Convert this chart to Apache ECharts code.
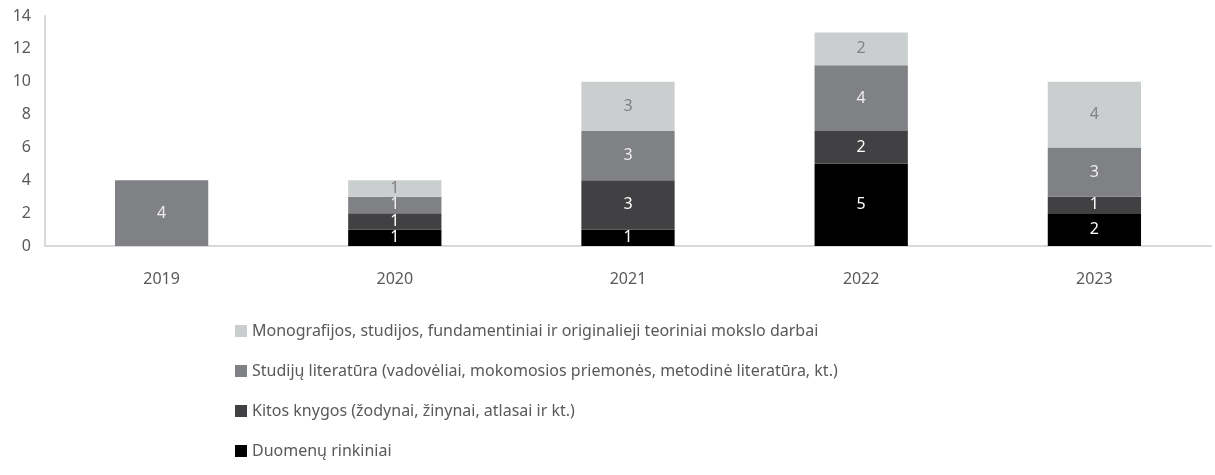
<!DOCTYPE html>
<head>
    <meta charset="utf-8">
    <title>Leidiniai</title>
    <script src="https://cdn.jsdelivr.net/npm/echarts@6/dist/echarts.min.js"></script>
    <style>
      body { margin:0; background:#fff; }
      #main { width:1215px; height:475px; }
    </style>
</head>
<body>
<div id="main"></div>
<script type="text/javascript">
var years = ['2019', '2020', '2021', '2022', '2023'];
var duomenu = [0, 1, 1, 5, 2];
var kitos = [0, 1, 3, 2, 1];
var studiju = [4, 1, 3, 4, 3];
var monografijos = [0, 1, 3, 2, 4];
var yTicks = [0, 2, 4, 6, 8, 10, 12, 14];

var names = [
    'Duomenų rinkiniai',
    'Kitos knygos (žodynai, žinynai, atlasai ir kt.)',
    'Studijų literatūra (vadovėliai, mokomosios priemonės, metodinė literatūra, kt.)',
    'Monografijos, studijos, fundamentiniai ir originalieji teoriniai mokslo darbai'
];
var colors = ['#000000', '#414042', '#808184', '#cbcecf'];
var labelColors = ['#ffffff', '#ffffff', '#eeeeee', '#808184'];
var values = [duomenu, kitos, studiju, monografijos];

var myChart = echarts.init(document.getElementById('main'));
var series = [];
for (var i = 0; i < values.length; i++) {
    series.push({
        name: names[i],
        type: 'bar',
        stack: 'total',
        barWidth: '40%',
        data: values[i],
        itemStyle: { color: colors[i] },
        label: {
            show: true,
            position: 'inside',
            color: labelColors[i],
            fontSize: 16,
            fontFamily: 'Noto Sans',
            formatter: function (p) { return p.value ? p.value : ''; }
        }
    });
}

var option = {
    animation: false,
    textStyle: { fontFamily: 'Noto Sans' },
    grid: { left: 45, right: 4, top: 16, bottom: 229 },
    legend: {
        orient: 'vertical',
        left: 230,
        top: 318,
        itemGap: 24,
        itemWidth: 12,
        itemHeight: 12,
        icon: 'rect',
        data: names.slice().reverse(),
        textStyle: { color: '#595959', fontSize: 16, fontFamily: 'Noto Sans' }
    },
    xAxis: {
        type: 'category',
        data: years,
        axisLine: { lineStyle: { color: '#d9d9d9', width: 2 } },
        axisTick: { show: false },
        axisLabel: { color: '#595959', fontSize: 16, margin: 25 }
    },
    yAxis: {
        type: 'value',
        min: yTicks[0],
        max: yTicks[yTicks.length - 1],
        interval: 2,
        axisLine: { show: true, lineStyle: { color: '#d9d9d9', width: 2 } },
        axisTick: { show: false },
        splitLine: { show: false },
        axisLabel: { color: '#595959', fontSize: 16, margin: 14 }
    },
    series: series
};
myChart.setOption(option);
</script>
</body>
